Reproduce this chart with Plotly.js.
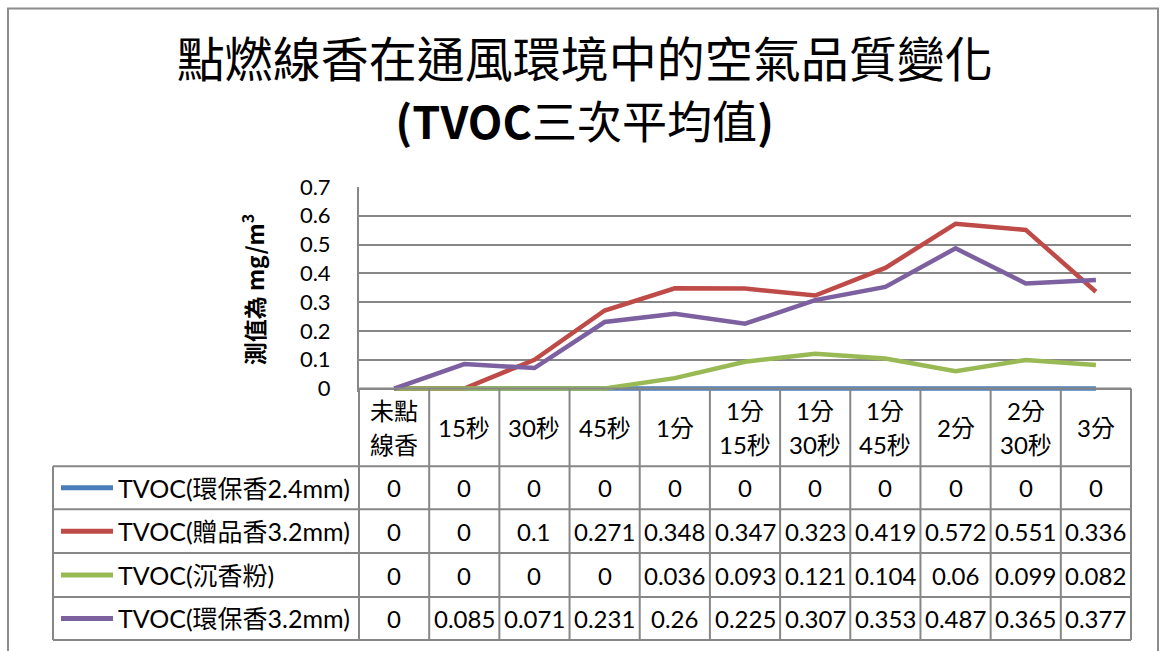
<!DOCTYPE html>
<html><head><meta charset="utf-8">
<script src="https://cdn.plot.ly/plotly-3.0.1.min.js"></script>
<style>html,body{margin:0;padding:0;background:#fff;}#chart{width:1160px;height:651px;}</style>
</head><body><div id="chart"></div>
<script>
// ---- data ----
const categories = ["未點<br>線香","15秒","30秒","45秒","1分","1分<br>15秒","1分<br>30秒","1分<br>45秒","2分","2分<br>30秒","3分"];
const seriesNames = ["TVOC(環保香2.4mm)","TVOC(贈品香3.2mm)","TVOC(沉香粉)","TVOC(環保香3.2mm)"];
const huanbao24 = [0,0,0,0,0,0,0,0,0,0,0];
const zengpin32 = [0,0,0.1,0.271,0.348,0.347,0.323,0.419,0.572,0.551,0.336];
const chenxiang = [0,0,0,0,0.036,0.093,0.121,0.104,0.06,0.099,0.082];
const huanbao32 = [0,0.085,0.071,0.231,0.26,0.225,0.307,0.353,0.487,0.365,0.377];
const yTicks = [0,0.1,0.2,0.3,0.4,0.5,0.6,0.7];
const seriesColors = ["#4A7EBB","#BE4B48","#98B954","#7D60A0"];
const allSeries = [huanbao24, zengpin32, chenxiang, huanbao32];

// ---- geometry (pixels) ----
const W = 1160, H = 651;
const PL = 359, PR = 1131, PT = 187, PB = 392.5;
const pw = PR - PL, ph = PB - PT;
const xp = px => (px - PL) / pw;
const yp = py => (PB - py) / ph;
const n = categories.length;
const colX = k => PL + k * pw / n;        // column boundary pixel
const headerTop = 389, headerBot = 467;
const rowLines = [467, 510, 554, 598, 641];
const legendLeft = 53;
const gridColor = "#878787";
const FONT = "Lato, 'Noto Sans CJK TC', sans-serif";

const x = categories.map((c, i) => i);
const traces = allSeries.map((vals, s) => ({
  type: "scatter", mode: "lines", x: x, y: vals, name: seriesNames[s],
  line: {color: seriesColors[s], width: 4.5}, hoverinfo: "x+y"
}));

const shapes = [];
const annotations = [];
const L = (x0, y0, x1, y1, color, width) => shapes.push({type: "line", xref: "paper", yref: "paper",
  x0: xp(x0), y0: yp(y0), x1: xp(x1), y1: yp(y1), line: {color: color, width: width}, layer: "above"});

// outer chart frame
shapes.push({type: "rect", xref: "paper", yref: "paper", x0: xp(8), y0: yp(8), x1: xp(1158), y1: yp(670),
  line: {color: "#8c8c8c", width: 2}, fillcolor: "rgba(0,0,0,0)", layer: "below"});

// table horizontal lines
L(PL, headerTop, PR, headerTop, gridColor, 2);
rowLines.forEach(py => L(legendLeft, py, PR, py, gridColor, 2));
// table vertical lines
for (let k = 0; k <= n; k++) L(colX(k), headerTop, colX(k), rowLines[rowLines.length - 1], gridColor, 2);
L(legendLeft, rowLines[0], legendLeft, rowLines[rowLines.length - 1], gridColor, 2);

// header labels
categories.forEach((c, i) => {
  const parts = c.split("<br>");
  const cy = (headerTop + headerBot) / 2;
  const gap = 34;
  parts.forEach((p, j) => {
    const py = parts.length === 1 ? cy : cy + (j - 0.5) * gap;
    annotations.push({xref: "x", yref: "paper", x: i, y: yp(py), text: p, showarrow: false,
      xanchor: "center", yanchor: "middle", font: {family: FONT, size: 24, color: "#000"}});
  });
});

// data rows + legend column
allSeries.forEach((vals, s) => {
  const top = rowLines[s], bot = rowLines[s + 1], cy = (top + bot) / 2;
  vals.forEach((v, i) => {
    annotations.push({xref: "x", yref: "paper", x: i, y: yp(cy), text: String(v), showarrow: false,
      xanchor: "center", yanchor: "middle", font: {family: FONT, size: 24, color: "#000"}});
  });
  L(61, cy, 113, cy, seriesColors[s], 5);
  annotations.push({xref: "paper", yref: "paper", x: xp(116), y: yp(cy), text: seriesNames[s], showarrow: false,
    xanchor: "left", yanchor: "middle", font: {family: FONT, size: 25, color: "#000"}});
});

const layout = {
  width: W, height: H,
  margin: {l: PL, r: W - PR, t: PT, b: H - PB, pad: 0},
  paper_bgcolor: "#fff", plot_bgcolor: "#fff",
  showlegend: false,
  font: {family: FONT, color: "#000"},
  title: {
    text: "點燃線香在通風環境中的空氣品質變化<br><span style=\"font-size:45px\"><b>(TVOC</b>三次平均值<b>)</b></span>",
    font: {family: "'Noto Sans CJK TC', Lato, sans-serif", size: 48, color: "#000"},
    x: 0.504, xanchor: "center", y: 1 - 77 / H, yanchor: "top"
  },
  xaxis: {range: [-0.5, n - 0.5], showticklabels: false, showgrid: false, zeroline: false,
    showline: false, ticks: "", fixedrange: true},
  yaxis: {range: [-(PB - 389) / (389 - PT) * 0.7, 0.7], tickvals: yTicks, ticktext: yTicks.map(String),
    showgrid: true, gridcolor: gridColor, gridwidth: 2, zeroline: false,
    showline: true, linecolor: gridColor, linewidth: 2, ticks: "", ticklabelstandoff: 22,
    tickfont: {family: FONT, size: 22, color: "#000"},
    title: {text: "<b>測值為 mg/m<sup>3</sup></b>", standoff: 29,
      font: {family: "'Noto Sans CJK TC', Lato, sans-serif", size: 23, color: "#000"}}},
  shapes: shapes, annotations: annotations
};

Plotly.newPlot("chart", traces, layout, {displayModeBar: false, staticPlot: true});
</script></body></html>
